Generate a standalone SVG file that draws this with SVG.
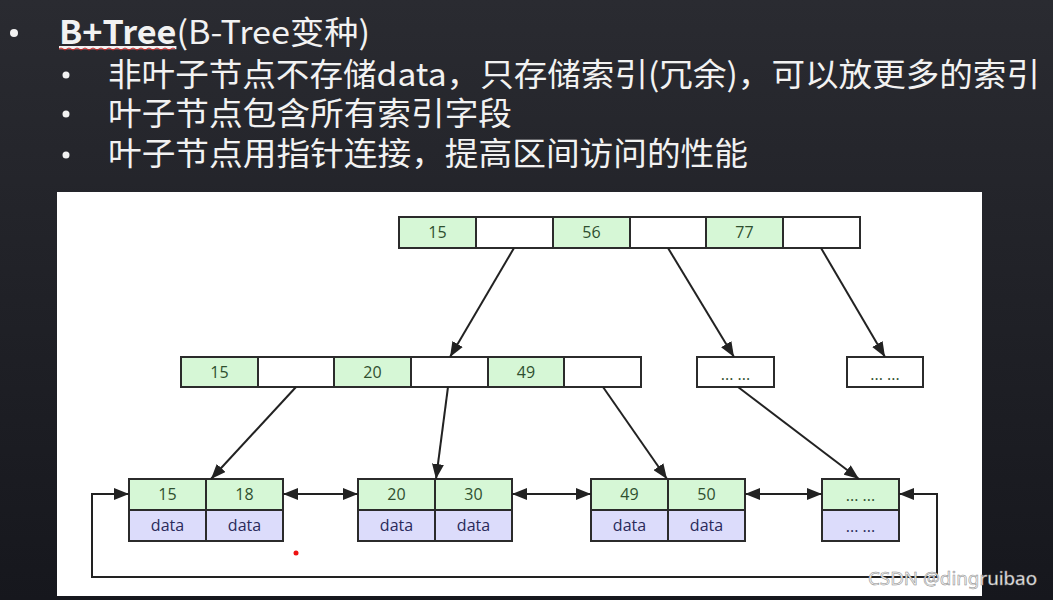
<svg xmlns="http://www.w3.org/2000/svg" width="1053" height="600" viewBox="0 0 1053 600">
<defs>
<linearGradient id="bg" x1="0" y1="0" x2="0" y2="1">
<stop offset="0" stop-color="#2a2b31"/>
<stop offset="1" stop-color="#16171d"/>
</linearGradient>
<marker id="ah" markerUnits="userSpaceOnUse" markerWidth="16" markerHeight="12" refX="15" refY="6" orient="auto-start-reverse">
<path d="M0,0 L15,6 L0,12 Z" fill="#222"/>
</marker>
<style>
.t{font-family:"Noto Sans CJK SC","Microsoft YaHei",sans-serif;fill:#f2f2f2;font-size:32px}
.k{fill:#d6f7d6;stroke:#2b2b2b;stroke-width:2}
.w{fill:#ffffff;stroke:#2b2b2b;stroke-width:2}
.d{fill:#dcdcfb;stroke:#2b2b2b;stroke-width:2}
.n{font-family:"Segoe UI","Open Sans","Noto Sans",sans-serif;font-size:16px;fill:#2f4f2f;text-anchor:middle}
.m{font-family:"Segoe UI","Open Sans","Noto Sans",sans-serif;font-size:16px;fill:#2a2a5a;text-anchor:middle}
.c{fill:none;stroke:#222;stroke-width:2;marker-end:url(#ah)}
.b{fill:none;stroke:#222;stroke-width:2;marker-start:url(#ah);marker-end:url(#ah)}
</style>
</defs>
<rect x="0" y="0" width="1053" height="600" fill="url(#bg)"/>
<g id="text">
<circle cx="14" cy="33" r="4" fill="#f2f2f2"/>
<text class="t" x="59" y="44" textLength="311" lengthAdjust="spacingAndGlyphs"><tspan font-weight="bold" text-decoration="underline">B+Tree</tspan>(B-Tree变种)</text>
<path d="M59,49 q2,-2 4,0 t4,0 t4,0 t4,0 t4,0 t4,0 t4,0 t4,0 t4,0 t4,0 t4,0 t4,0 t4,0 t4,0 t4,0 t4,0 t4,0 t4,0 t4,0 t4,0 t4,0 t4,0 t4,0 t4,0 t4,0 t4,0 t4,0 t4,0 t4,0" fill="none" stroke="#d02020" stroke-width="1"/>
<circle cx="66" cy="75" r="3.5" fill="#f2f2f2"/>
<text class="t" x="108" y="86" textLength="932" lengthAdjust="spacingAndGlyphs">非叶子节点不存储data，只存储索引(冗余)，可以放更多的索引</text>
<circle cx="66" cy="114" r="3.5" fill="#f2f2f2"/>
<text class="t" x="108" y="125" textLength="404" lengthAdjust="spacingAndGlyphs">叶子节点包含所有索引字段</text>
<circle cx="66" cy="155" r="3.5" fill="#f2f2f2"/>
<text class="t" x="108" y="165" textLength="640" lengthAdjust="spacingAndGlyphs">叶子节点用指针连接，提高区间访问的性能</text>
</g>
<rect x="57" y="192" width="925" height="404" fill="#ffffff"/>
<g id="root">
<rect class="k" x="399" y="217" width="77" height="31"/>
<rect class="w" x="476" y="217" width="77" height="31"/>
<rect class="k" x="553" y="217" width="77" height="31"/>
<rect class="w" x="630" y="217" width="76" height="31"/>
<rect class="k" x="706" y="217" width="77" height="31"/>
<rect class="w" x="783" y="217" width="77" height="31"/>
<text class="n" x="437.5" y="238">15</text>
<text class="n" x="591.5" y="238">56</text>
<text class="n" x="744.5" y="238">77</text>
</g>
<g id="mid">
<rect class="k" x="181" y="357" width="77" height="30"/>
<rect class="w" x="258" y="357" width="76" height="30"/>
<rect class="k" x="334" y="357" width="77" height="30"/>
<rect class="w" x="411" y="357" width="77" height="30"/>
<rect class="k" x="488" y="357" width="76" height="30"/>
<rect class="w" x="564" y="357" width="77" height="30"/>
<text class="n" x="219.5" y="378">15</text>
<text class="n" x="372.5" y="378">20</text>
<text class="n" x="526" y="378">49</text>
</g>
<g id="mid2">
<rect class="w" x="697" y="357" width="77" height="30"/>
<text class="n" x="735.5" y="380">... ...</text>
</g>
<g id="mid3">
<rect class="w" x="847" y="357" width="76" height="30"/>
<text class="n" x="885" y="380">... ...</text>
</g>
<g id="leaf1">
<rect class="k" x="129" y="479" width="77" height="31"/>
<rect class="k" x="206" y="479" width="77" height="31"/>
<rect class="d" x="129" y="510" width="77" height="31"/>
<rect class="d" x="206" y="510" width="77" height="31"/>
<text class="n" x="167.5" y="500">15</text>
<text class="n" x="244.5" y="500">18</text>
<text class="m" x="167.5" y="531">data</text>
<text class="m" x="244.5" y="531">data</text>
</g>
<g id="leaf2">
<rect class="k" x="358" y="479" width="77" height="31"/>
<rect class="k" x="435" y="479" width="77" height="31"/>
<rect class="d" x="358" y="510" width="77" height="31"/>
<rect class="d" x="435" y="510" width="77" height="31"/>
<text class="n" x="396.5" y="500">20</text>
<text class="n" x="473.5" y="500">30</text>
<text class="m" x="396.5" y="531">data</text>
<text class="m" x="473.5" y="531">data</text>
</g>
<g id="leaf3">
<rect class="k" x="591" y="479" width="77" height="31"/>
<rect class="k" x="668" y="479" width="77" height="31"/>
<rect class="d" x="591" y="510" width="77" height="31"/>
<rect class="d" x="668" y="510" width="77" height="31"/>
<text class="n" x="629.5" y="500">49</text>
<text class="n" x="706.5" y="500">50</text>
<text class="m" x="629.5" y="531">data</text>
<text class="m" x="706.5" y="531">data</text>
</g>
<g id="leaf4">
<rect class="k" x="822" y="479" width="77" height="31"/>
<rect class="d" x="822" y="510" width="77" height="31"/>
<text class="n" x="860.5" y="501">... ...</text>
<text class="m" x="860.5" y="532">... ...</text>
</g>
<g id="connectors">
<path class="c" d="M514,248 L450,357"/>
<path class="c" d="M668,248 L734,357"/>
<path class="c" d="M821,248 L885,357"/>
<path class="c" d="M296,387 L211,479"/>
<path class="c" d="M448,387 L436,479"/>
<path class="c" d="M603,387 L667,479"/>
<path class="c" d="M738,387 L859,479"/>
<path class="b" d="M283,494 H358"/>
<path class="b" d="M512,494 H591"/>
<path class="b" d="M745,494 H822"/>
<path class="b" d="M899,494 H937 V577 H92 V494 H129"/>
</g>
<circle cx="296" cy="553" r="2.5" fill="#ee1111"/>
<text x="868" y="585" textLength="169" lengthAdjust="spacingAndGlyphs" font-family="'Noto Sans','Open Sans',sans-serif" font-size="18" fill="#f4f4f4" stroke="#8a8a8a" stroke-width="0.5">CSDN @dingruibao</text>
</svg>
